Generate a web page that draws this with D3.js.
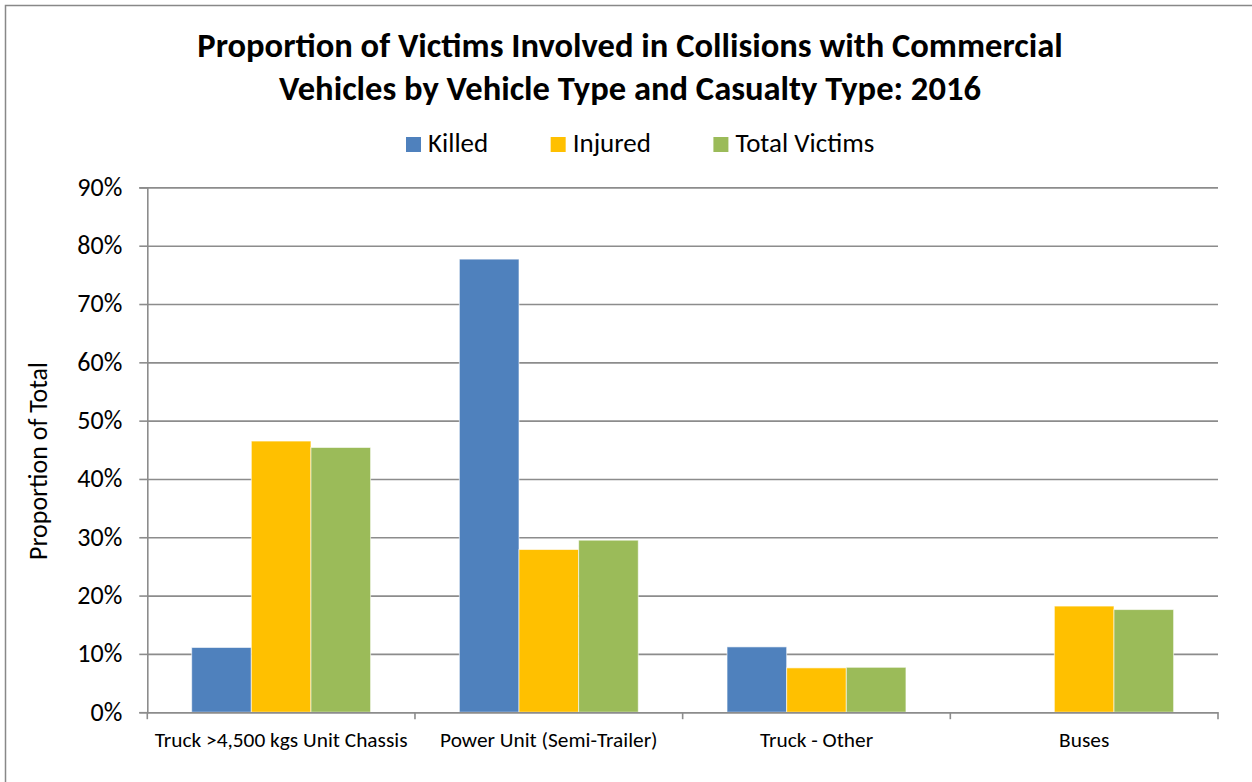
<!DOCTYPE html>
<html>
<head>
<meta charset="utf-8">
<script src="https://cdn.jsdelivr.net/npm/d3@7"></script>
<style>
  html, body { margin: 0; padding: 0; background: #fff; }
  svg { display: block; }
  text { font-family: Carlito, Lato, "Open Sans", sans-serif; fill: #000; }
</style>
</head>
<body>
<svg id="chart" width="1252" height="782"></svg>
<script>
const categories = ["Truck >4,500 kgs Unit Chassis", "Power Unit (Semi-Trailer)", "Truck - Other", "Buses"];
const seriesNames = ["Killed", "Injured", "Total Victims"];
const killed = [0.111, 0.777, 0.112, 0.0];
const injured = [0.465, 0.279, 0.076, 0.182];
const totalVictims = [0.454, 0.295, 0.077, 0.176];
const yTicks = [0, 0.1, 0.2, 0.3, 0.4, 0.5, 0.6, 0.7, 0.8, 0.9];
const titleLines = ["Proportion of Victims Involved in Collisions with Commercial", "Vehicles by Vehicle Type and Casualty Type: 2016"];
const yAxisTitle = "Proportion of Total";
const colors = ["#4F81BD", "#FFC000", "#9BBB59"];

const seriesValues = [killed, injured, totalVictims];
const svg = d3.select("#chart");
const FONT = "Carlito, Lato, 'Open Sans', sans-serif";

function measure(text, size, weight) {
  const t = svg.append("text").style("font-family", FONT).style("font-size", size + "px")
    .style("font-weight", weight || "normal").text(text);
  const w = t.node().getComputedTextLength();
  t.remove();
  return w;
}
function fitSize(text, targetW, base, weight) {
  const w = measure(text, base, weight);
  return w > 0 ? base * targetW / w : base;
}

// Chart border
svg.append("rect").attr("x", 5.5).attr("y", 5.5).attr("width", 1260).attr("height", 800)
  .attr("fill", "#fff").attr("stroke", "#888").attr("stroke-width", 1.5);

const plot = { left: 147.3, right: 1218, top: 187.4, bottom: 712.2 };

const x = d3.scaleBand().domain(categories).range([plot.left, plot.right]).paddingInner(0).paddingOuter(0);
const y = d3.scaleLinear().domain([0, 0.9]).range([plot.bottom, plot.top]);
const bandW = x.bandwidth();
const groupPad = bandW * 0.1658;
const xs = d3.scaleBand().domain(seriesNames).range([groupPad, bandW - groupPad]).padding(0);

// gridlines
const grid = svg.append("g")
  .attr("transform", `translate(${plot.left},0)`)
  .call(d3.axisLeft(y).tickValues(yTicks).tickSize(-(plot.right - plot.left)).tickFormat(""));
grid.select(".domain").remove();
grid.selectAll("line").attr("stroke", "#8c8c8c").attr("stroke-width", 1.6);

// bars
const barsG = svg.append("g");
seriesNames.forEach((s, si) => {
  barsG.selectAll(null).data(categories.map((c, ci) => ({ c, v: seriesValues[si][ci] })))
    .enter().append("rect")
    .attr("x", d => x(d.c) + xs(s))
    .attr("y", d => y(d.v))
    .attr("width", xs.bandwidth())
    .attr("height", d => y(0) - y(d.v))
    .attr("fill", colors[si])
    .attr("stroke", d => d.v > 0 ? "rgba(255,255,255,0.6)" : "none")
    .attr("stroke-width", 1);
});

// y axis with ticks and labels
const ySize = fitSize("90%", 45, 20);
const yAxis = svg.append("g")
  .attr("transform", `translate(${plot.left},0)`)
  .call(d3.axisLeft(y).tickValues(yTicks).tickSize(8).tickPadding(17).tickFormat(d3.format(".0%")));
yAxis.attr("font-size", null).attr("font-family", null);
yAxis.select(".domain").attr("stroke", "#8c8c8c").attr("stroke-width", 1.6);
yAxis.selectAll("line").attr("stroke", "#8c8c8c").attr("stroke-width", 1.6);
yAxis.selectAll("text").attr("fill", "#000")
  .style("font-family", FONT).style("font-size", ySize + "px").attr("dy", "0.3em");

// x axis
const xSize = fitSize(categories[0], 253, 17);
const xAxis = svg.append("g")
  .attr("transform", `translate(0,${plot.bottom})`)
  .call(d3.axisBottom(x).tickSize(0).tickPadding(20));
xAxis.attr("font-size", null).attr("font-family", null);
xAxis.select(".domain").attr("stroke", "#8c8c8c").attr("stroke-width", 1.6);
xAxis.selectAll("text").attr("fill", "#000")
  .style("font-family", FONT).style("font-size", xSize + "px");
// category boundary ticks
const bounds = categories.map(c => x(c)).concat([plot.right]);
svg.append("g").selectAll("line").data(bounds).enter().append("line")
  .attr("x1", d => d).attr("x2", d => d)
  .attr("y1", plot.bottom).attr("y2", plot.bottom + 7)
  .attr("stroke", "#8c8c8c").attr("stroke-width", 1.6);

// y axis title
svg.append("text")
  .attr("transform", `translate(47,461) rotate(-90)`)
  .attr("text-anchor", "middle")
  .style("font-size", fitSize(yAxisTitle, 198, 20) + "px")
  .text(yAxisTitle);

// title
const titleSize = fitSize(titleLines[0], 866, 28, "bold");
const titleY = [57, 100];
titleLines.forEach((t, i) => {
  svg.append("text").attr("x", 630).attr("y", titleY[i])
    .attr("text-anchor", "middle").style("font-weight", "bold")
    .style("font-size", titleSize + "px").text(t);
});

// legend
const legSize = fitSize("Total Victims", 139, 21);
const lg = svg.append("g");
let gx = 406;
seriesNames.forEach((s, i) => {
  lg.append("rect").attr("x", gx).attr("y", 137).attr("width", 15).attr("height", 15).attr("fill", colors[i]);
  const t = lg.append("text").attr("x", gx + 22).attr("y", 151.5).style("font-size", legSize + "px").text(s);
  gx += 22 + t.node().getComputedTextLength() + 62.5;
});
</script>
</body>
</html>
